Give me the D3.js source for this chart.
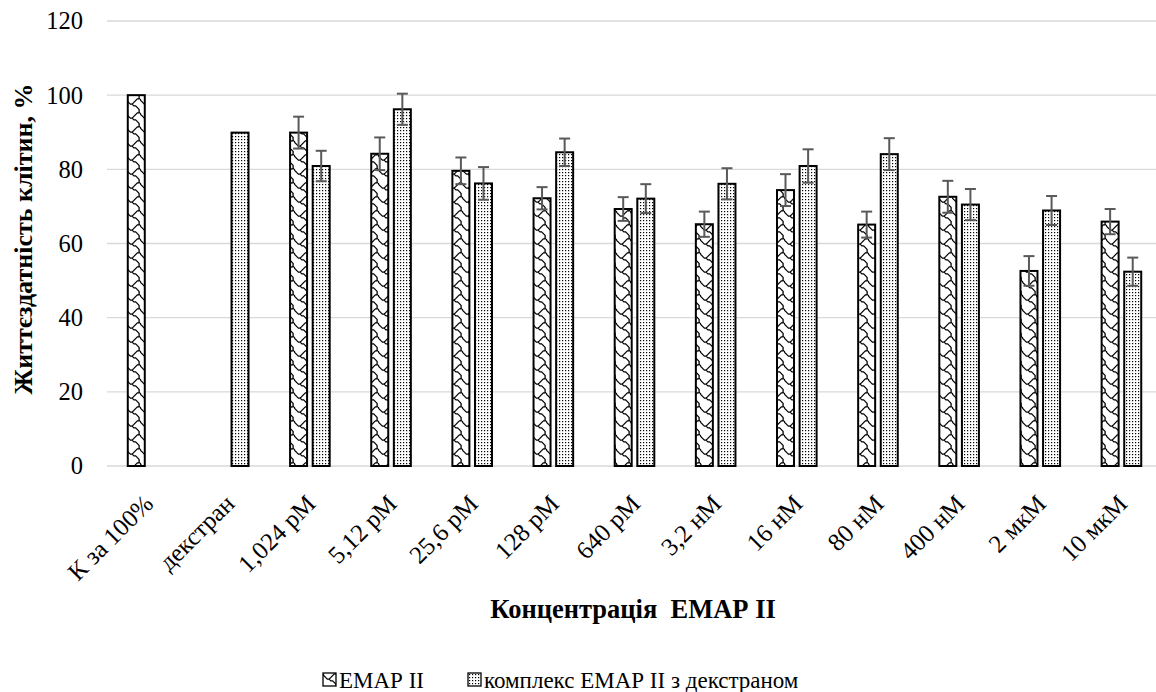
<!DOCTYPE html>
<html>
<head>
<meta charset="utf-8">
<script src="https://cdn.jsdelivr.net/npm/d3@7"></script>
</head>
<body style="margin:0;background:#fff">
<div id="chart"></div>
<script>
// categories and series values
var categories = ["К за 100%", "декстран", "1,024 pM", "5,12 pM", "25,6 pM", "128 pM",
                  "640 pM", "3,2 нМ", "16 нМ", "80 нМ", "400 нМ", "2 мкМ", "10 мкМ"];
var seriesNames = ["ЕМАР II", "комплекс ЕМАР II з декстраном"];
var emapValues  = [100, null, 89.9, 84.2, 79.6, 72.2, 69.3, 65.2, 74.4, 65.1, 72.6, 52.6, 65.9];
var emapErrors  = [null, null, 4.3, 4.4, 3.6, 3.0, 3.2, 3.4, 4.3, 3.5, 4.3, 4.0, 3.4];
var complexValues = [null, 89.9, 80.9, 96.2, 76.2, 84.6, 72.1, 76.1, 80.9, 84.1, 70.5, 68.9, 52.4];
var complexErrors = [null, null, 4.1, 4.2, 4.4, 3.7, 3.9, 4.2, 4.5, 4.3, 4.2, 3.9, 3.8];
var yTicks = [0, 20, 40, 60, 80, 100, 120];

var W = 1156, H = 692;
var margin = {left: 107, right: -6, top: 21, bottom: 226};
var FONT = "'Liberation Serif'";

var svg = d3.select("#chart").append("svg")
    .attr("width", W)
    .attr("height", H)
    .style("display", "block");

// fill patterns: shingle-like for EMAP II, dotted for the complex
var defs = svg.append("defs");
var shingle = defs.append("pattern")
    .attr("id", "pat-emap")
    .attr("patternUnits", "userSpaceOnUse")
    .attr("width", 14)
    .attr("height", 14);
shingle.append("rect").attr("width", 14).attr("height", 14).attr("fill", "#fff");
shingle.append("path")
    .attr("d", "M0,0.9 L0.9,2.6 L2.6,4.4 L4.4,6.1 L6.1,6.1 L7.9,4.4 L9.6,2.6 L11.4,0.9 L14,0.9" +
               " M6.1,6.1 L7.9,7.9 L9.6,7.9 L11.4,9.6 L13.1,11.4 L13.1,14 M13.1,0 L13.1,0.9")
    .attr("fill", "none")
    .attr("stroke", "#000")
    .attr("stroke-width", 1.3);

var dots = defs.append("pattern")
    .attr("id", "pat-complex")
    .attr("patternUnits", "userSpaceOnUse")
    .attr("width", 3)
    .attr("height", 3);
dots.append("rect").attr("width", 3).attr("height", 3).attr("fill", "#fff");
dots.append("rect").attr("x", 1).attr("y", 1).attr("width", 1.2).attr("height", 1.2).attr("fill", "#000");

var fills = ["url(#pat-emap)", "url(#pat-complex)"];

var x0 = d3.scaleBand()
    .domain(categories)
    .range([margin.left, W - margin.right])
    .paddingInner(0.443)
    .paddingOuter(0.2215);

var x1 = d3.scaleBand()
    .domain([0, 1])
    .range([0, x0.bandwidth()]);

var y = d3.scaleLinear()
    .domain([0, 120])
    .range([H - margin.bottom, margin.top]);

// grid
svg.append("g")
    .selectAll("line")
    .data(yTicks)
    .enter().append("line")
    .attr("x1", margin.left)
    .attr("x2", W)
    .attr("y1", d => y(d))
    .attr("y2", d => y(d))
    .attr("stroke", "#d9d9d9")
    .attr("stroke-width", 1.3);

var yAxis = svg.append("g")
    .attr("transform", "translate(" + margin.left + ",0)")
    .call(d3.axisLeft(y).tickValues(yTicks).tickSize(0).tickPadding(24));
yAxis.select(".domain").remove();
yAxis.selectAll("text")
    .style("font-family", FONT)
    .style("font-size", "24.5px")
    .attr("fill", "#000");

// bars
var rows = [];
categories.forEach((c, i) => {
    [emapValues[i], complexValues[i]].forEach((v, s) => {
        if (v != null) {
            rows.push({cat: c, s: s, v: v, e: s == 0 ? emapErrors[i] : complexErrors[i]});
        }
    });
});

var barInset = 2.8;
svg.append("g")
    .selectAll("rect")
    .data(rows)
    .enter().append("rect")
    .attr("x", d => x0(d.cat) + x1(d.s) + barInset)
    .attr("y", d => y(d.v))
    .attr("width", x1.bandwidth() - 2 * barInset)
    .attr("height", d => y(0) - y(d.v))
    .attr("fill", d => fills[d.s])
    .attr("stroke", "#000")
    .attr("stroke-width", 2);

// error bars
var errs = svg.append("g")
    .attr("stroke", "#595959")
    .attr("stroke-width", 2)
    .selectAll("g")
    .data(rows.filter(d => d.e != null))
    .enter().append("g")
    .attr("transform", d => "translate(" + (x0(d.cat) + x1(d.s) + x1.bandwidth() / 2) + ",0)");
errs.append("line")
    .attr("y1", d => y(d.v - d.e))
    .attr("y2", d => y(d.v + d.e));
errs.append("line")
    .attr("x1", -5.5).attr("x2", 5.5)
    .attr("y1", d => y(d.v + d.e))
    .attr("y2", d => y(d.v + d.e));
errs.append("line")
    .attr("x1", -5.5).attr("x2", 5.5)
    .attr("y1", d => y(d.v - d.e))
    .attr("y2", d => y(d.v - d.e));

// category labels
svg.append("g")
    .selectAll("text")
    .data(categories)
    .enter().append("text")
    .attr("transform", d => "translate(" + (x0(d) + x0.bandwidth() / 2 + 1) + "," + (y(0) + 33) + ") rotate(-45)")
    .attr("text-anchor", "end")
    .attr("dy", "0.35em")
    .style("font-family", FONT)
    .style("font-size", "25px")
    .text(d => d);

// axis titles
svg.append("text")
    .attr("x", 633)
    .attr("y", 618)
    .attr("text-anchor", "middle")
    .attr("xml:space", "preserve")
    .style("font-family", FONT)
    .style("font-size", "26.5px")
    .style("font-weight", "bold")
    .style("white-space", "pre")
    .text("Концентрація  ЕМАР II");

svg.append("text")
    .attr("transform", "translate(32,239) rotate(-90)")
    .attr("text-anchor", "middle")
    .style("font-family", FONT)
    .style("font-size", "26px")
    .style("font-weight", "bold")
    .text("Життєздатність клітин, %");

// legend
var legendX = [323, 468];
var legend = svg.append("g")
    .selectAll("g")
    .data(seriesNames)
    .enter().append("g")
    .attr("transform", (d, i) => "translate(" + legendX[i] + ",673)");
legend.append("rect")
    .attr("width", 13)
    .attr("height", 13)
    .attr("fill", (d, i) => fills[i])
    .attr("stroke", "#000")
    .attr("stroke-width", 1.3);
legend.append("text")
    .attr("x", 16)
    .attr("y", 15)
    .style("font-family", FONT)
    .style("font-size", "23px")
    .text(d => d);
</script>
</body>
</html>
